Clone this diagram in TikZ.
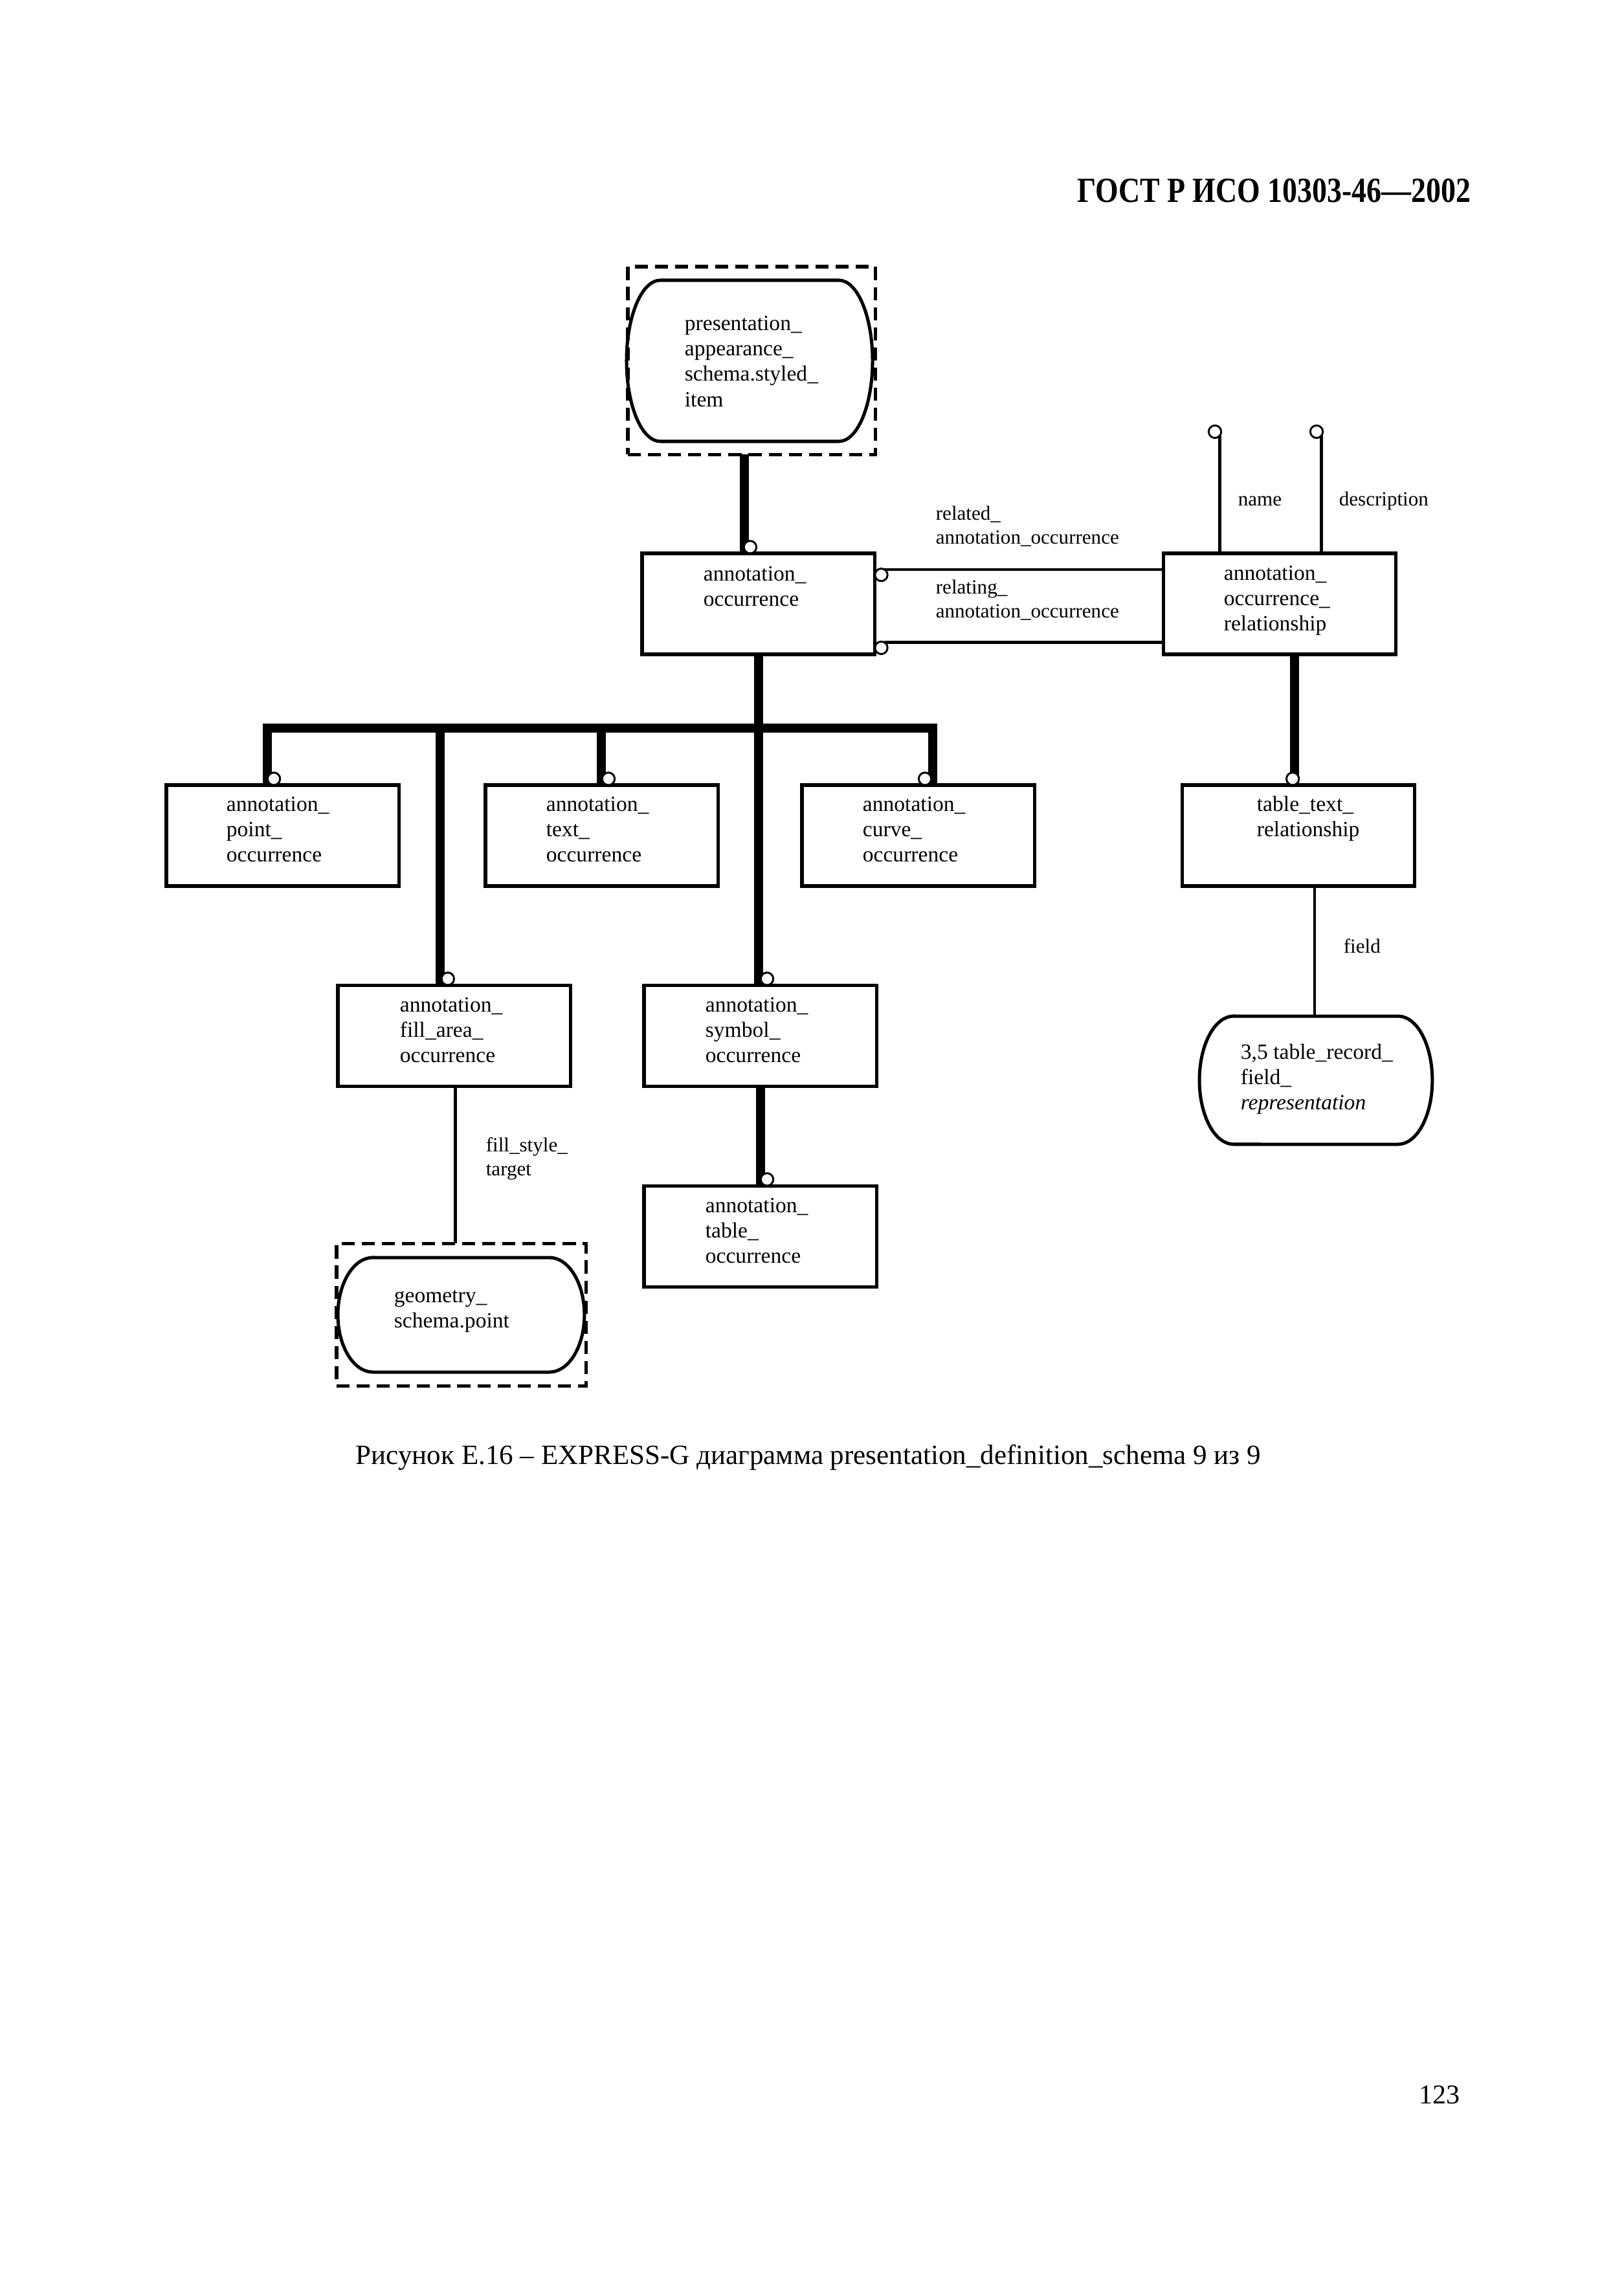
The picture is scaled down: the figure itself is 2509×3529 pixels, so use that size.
\documentclass[tikz,border=0pt]{standalone}
\usepackage{fontspec}
\setmainfont{Liberation Serif}
\newfontfamily\headfont[FakeStretch=0.84]{Liberation Serif}
\newcommand\dtfont{\fontsize{8}{9.4}\selectfont}
\newcommand\lbfont{\fontsize{7.4}{9}\selectfont}
\newcommand\ml[1]{\begin{tabular}[t]{@{}l@{}}#1\end{tabular}}
\newcommand\pill[3]{\draw[pilline] ([xshift=#2]#1.north west) -- ([xshift=-#2]#1.north east)
  arc[start angle=90,end angle=-90,x radius=#2,y radius=#3] -- ([xshift=#2]#1.south west)
  arc[start angle=270,end angle=90,x radius=#2,y radius=#3] -- cycle;}

\begin{document}
\begin{tikzpicture}[x=0.23815pt,y=-0.23815pt,
    entity/.style={draw,line width=1.2pt,anchor=north west,minimum width=85.7pt,minimum height=37.15pt,inner sep=0,outer sep=0},
    txt/.style={font=\dtfont,inner sep=0,anchor=base west},
    lbl/.style={font=\lbfont,inner sep=0,anchor=base west},
    circ/.style={draw,circle,line width=0.7pt,fill=white,minimum size=4.6pt,inner sep=0,outer sep=0},
    super/.style={line width=3.3pt},
    rel/.style={line width=1.1pt},
    dbox/.style={draw,line width=1.2pt,dash pattern=on 4.8pt off 2.6pt,anchor=north west,inner sep=0,outer sep=0},
    pbox/.style={anchor=north west,inner sep=0,outer sep=0},
    pilline/.style={line width=1.2pt}]
    \useasboundingbox (0,0) rectangle (2509,3529);

    \node[anchor=base east,inner sep=0,font=\headfont\fontsize{13}{15}\selectfont\bfseries] (hdr) at (2273,312) {ГОСТ Р ИСО 10303-46—2002};

    \node[dbox,minimum width=91.2pt,minimum height=69.1pt] (sty) at (970,412) {};
    \node[pbox,minimum width=90.5pt,minimum height=59.3pt] (sty_p) at (968,433) {};
    \pill{sty_p}{12.4pt}{29.65pt}
    \node[txt] (sty_t) at ([shift={(89,77)}]sty_p.north west) {\ml{presentation\_\\appearance\_\\schema.styled\_\\item}};

    \node[entity] (ao) at (992,855) {};
    \node[txt] (ao_t) at ([shift={(94,42)}]ao.north west) {\ml{annotation\_\\occurrence}};
    \node[entity] (aor) at (1797,855) {};
    \node[txt] (aor_t) at ([shift={(93,41)}]aor.north west) {\ml{annotation\_\\occurrence\_\\relationship}};

    \node[entity] (pt) at (257,1213) {};
    \node[txt] (pt_t) at ([shift={(92,40)}]pt.north west) {\ml{annotation\_\\point\_\\occurrence}};
    \node[entity] (tx) at (750,1213) {};
    \node[txt] (tx_t) at ([shift={(93,40)}]tx.north west) {\ml{annotation\_\\text\_\\occurrence}};
    \node[entity] (cv) at (1239,1213) {};
    \node[txt] (cv_t) at ([shift={(93,40)}]cv.north west) {\ml{annotation\_\\curve\_\\occurrence}};
    \node[entity] (ttr) at (1826,1213) {};
    \node[txt] (ttr_t) at ([shift={(115,40)}]ttr.north west) {\ml{table\_text\_\\relationship}};

    \node[entity] (fa) at (522,1522) {};
    \node[txt] (fa_t) at ([shift={(95,41)}]fa.north west) {\ml{annotation\_\\fill\_area\_\\occurrence}};
    \node[entity] (sy) at (995,1522) {};
    \node[txt] (sy_t) at ([shift={(94,41)}]sy.north west) {\ml{annotation\_\\symbol\_\\occurrence}};
    \node[entity] (tb) at (995,1832) {};
    \node[txt] (tb_t) at ([shift={(94,41)}]tb.north west) {\ml{annotation\_\\table\_\\occurrence}};

    \node[pbox,minimum width=85.7pt,minimum height=47.15pt] (trf_p) at (1853,1570) {};
    \pill{trf_p}{12.6pt}{23.58pt}
    \node[txt] (trf_t) at ([shift={(63,66)}]trf_p.north west) {\ml{3,5 table\_record\_\\field\_\\\textit{representation}}};

    \node[dbox,minimum width=91.7pt,minimum height=52.6pt] (geo) at (520,1921) {};
    \node[pbox,minimum width=90.7pt,minimum height=42.15pt] (geo_p) at (522,1943) {};
    \pill{geo_p}{12.9pt}{21.08pt}
    \node[txt] (geo_t) at ([shift={(86,69)}]geo_p.north west) {\ml{geometry\_\\schema.point}};

    \coordinate (bar) at ([yshift=-27.1pt]ao.south);
    \draw[super] ([xshift=-5.2pt]ao.north |- sty.south) -- ([xshift=-5.2pt]ao.north);
    \draw[super] (ao.south) -- (ao.south |- sy.north);
    \draw[super] ([xshift=-5.7pt]pt.north) -- ([xshift=-5.7pt]pt.north |- bar) -- ([xshift=5.2pt]cv.north |- bar) -- ([xshift=5.2pt]cv.north);
    \draw[super] ([xshift=-0.2pt]tx.north) -- ([xshift=-0.2pt]tx.north |- bar);
    \draw[super] ([xshift=-5.2pt]fa.north) -- ([xshift=-5.2pt]fa.north |- bar);
    \draw[super] (sy.south) -- (tb.north);
    \draw[super] ([xshift=-1.4pt]ttr.north |- aor.south) -- ([xshift=-1.4pt]ttr.north);

    \node[circ,anchor=south] (ao_c) at ([xshift=-3.1pt]ao.north) {};
    \node[circ,anchor=south] (pt_c) at ([xshift=-3.3pt]pt.north) {};
    \node[circ,anchor=south] (tx_c) at ([xshift=2.4pt]tx.north) {};
    \node[circ,anchor=south] (cv_c) at ([xshift=2.4pt]cv.north) {};
    \node[circ,anchor=south] (fa_c) at ([xshift=-2.4pt]fa.north) {};
    \node[circ,anchor=south] (sy_c) at ([xshift=2.4pt]sy.north) {};
    \node[circ,anchor=south] (tb_c) at ([xshift=2.4pt]tb.north) {};
    \node[circ,anchor=south] (ttr_c) at ([xshift=-2.1pt]ttr.north) {};
    \node[circ,anchor=west] (ao_r1) at ([yshift=-7.9pt]ao.north east) {};
    \node[circ,anchor=west] (ao_r2) at ([yshift=2.4pt]ao.south east) {};
    \node[circ] (aor_n) at ([shift={(80,-188)}]aor.north west) {};
    \node[circ] (aor_d) at ([shift={(237,-188)}]aor.north west) {};

    \draw[rel] (ao_r1.60) -- (ao_r1.60 -| aor.west);
    \draw[rel] (ao_r2.60) -- (ao_r2.60 -| aor.west);
    \draw[rel] (aor_n.-40) -- (aor_n.-40 |- aor.north);
    \draw[rel] (aor_d.-40) -- (aor_d.-40 |- aor.north);
    \draw[rel] ([xshift=0.4pt]fa.south) -- ([xshift=0.4pt]fa.south |- geo.north);
    \draw[rel] ([xshift=6pt]ttr.south) -- ([xshift=6pt]ttr.south |- trf_p.north);

    \node[lbl] (l_rel1) at (1445,803) {\ml{related\_\\annotation\_occurrence}};
    \node[lbl] (l_rel2) at (1445,917) {\ml{relating\_\\annotation\_occurrence}};
    \node[lbl] (l_name) at (1912,781) {name};
    \node[lbl] (l_desc) at (2068,781) {description};
    \node[lbl] (l_field) at (2075,1472) {field};
    \node[lbl] (l_fst) at (750,1779) {\ml{fill\_style\_\\target}};

    \node[anchor=base west,inner sep=0,font=\fontsize{10.25}{12}\selectfont] (cap) at (549,2262) {Рисунок Е.16 – EXPRESS-G диаграмма presentation\_definition\_schema 9 из 9};
    \node[anchor=base east,inner sep=0,font=\fontsize{10}{12}\selectfont] (pg) at (2256,3250) {123};
\end{tikzpicture}
\end{document}
